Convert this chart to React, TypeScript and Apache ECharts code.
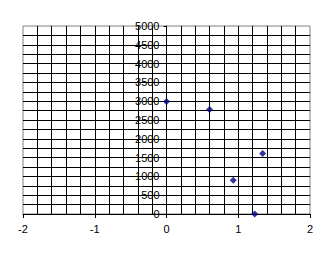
import React, { useEffect, useRef } from "react";
import * as echarts from "echarts";

const xValues = [0, 0.6, 0.93, 1.34, 1.23];
const yValues = [2990, 2780, 900, 1610, 0];

export default function App() {
  const ref = useRef<HTMLDivElement>(null);
  useEffect(() => {
    if (!ref.current) return;
    const chart = echarts.init(ref.current, null, { renderer: "svg" });
    const font = "Liberation Sans";
    const gridW = 333 - 23 - 23;
    chart.setOption({
      animation: false,
      backgroundColor: "#ffffff",
      grid: {
        left: 23,
        right: 23,
        top: 26,
        bottom: 44,
        containLabel: false,
        outerBoundsMode: "none",
        show: true,
        borderColor: "#808080",
        borderWidth: 1,
        backgroundColor: "transparent",
      },
      xAxis: {
        type: "value",
        min: -2,
        max: 2,
        interval: 1,
        axisLine: { show: true, onZero: false, lineStyle: { color: "#000", width: 1 } },
        axisTick: { show: true, inside: false, length: 4, lineStyle: { color: "#000" } },
        axisLabel: { color: "#000", fontFamily: font, fontSize: 11, margin: 9 },
        splitLine: { show: true, showMinLine: false, showMaxLine: false, lineStyle: { color: "#000", width: 1 } },
        minorTick: { show: false, splitNumber: 5 },
        minorSplitLine: { show: true, lineStyle: { color: "#000", width: 1 } },
      },
      yAxis: {
        type: "value",
        min: 0,
        max: 5000,
        interval: 500,
        position: "left",
        offset: -gridW / 2,
        axisLine: { show: true, onZero: false, lineStyle: { color: "#000", width: 1 } },
        axisTick: { show: true, inside: false, length: 3, lineStyle: { color: "#000" } },
        axisLabel: {
          color: "#000",
          fontFamily: font,
          fontSize: 11,
          margin: 7,
          formatter: (v: number) => String(v),
        },
        splitLine: { show: true, showMinLine: false, showMaxLine: false, lineStyle: { color: "#000", width: 1 } },
        minorTick: { show: false, splitNumber: 2 },
        minorSplitLine: { show: true, lineStyle: { color: "#000", width: 1 } },
      },
      series: [
        {
          type: "scatter",
          data: xValues.map((x, i) => [x, yValues[i]]),
          symbol: "diamond",
          symbolSize: 7,
          itemStyle: { color: "#000080" },
          z: 10,
        },
      ],
    });
    return () => chart.dispose();
  }, []);
  return <div ref={ref} style={{ width: 333, height: 258, position: "absolute", left: 0, top: 0 }} />;
}
